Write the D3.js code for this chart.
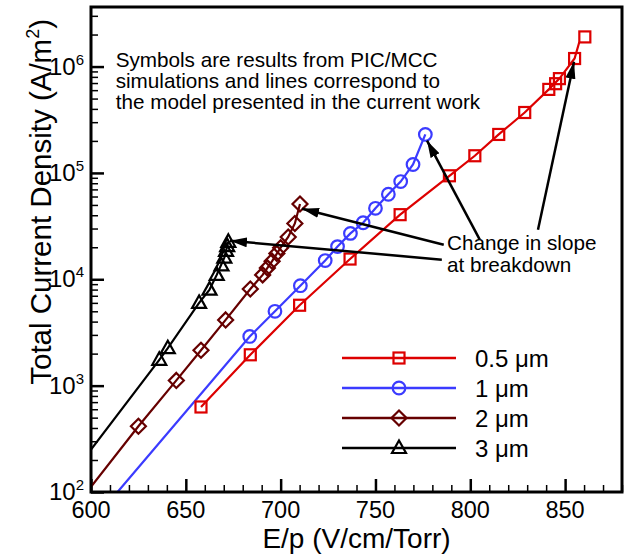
<!DOCTYPE html>
<html lang="en">
<head>
<meta charset="UTF-8">
<title>Total Current Density vs E/p</title>
<style>
  body { margin: 0; background: #fff; }
  svg text { font-family: "Liberation Sans", Arial, sans-serif; fill: #000; }
</style>
</head>
<body>
<div id="chart"></div>
<script src="https://d3js.org/d3.v7.min.js"></script>
<script>
// ---- data ----
const xTicks = [600, 650, 700, 750, 800, 850];
const yTickExps = [2, 3, 4, 5, 6];

// 0.5 um
const ep05Sym = [658, 684, 710, 736.6, 763, 789, 802.4, 815, 828.7, 841.4, 845, 847, 855, 860.4];
const j05Sym = [630, 1950, 5700, 15500, 40500, 94000, 145000, 230000, 370000, 610000, 690000, 770000, 1190000, 1900000];
const ep05Line = [658, 684, 710, 736.6, 763, 789, 802.4, 815, 828.7, 841.4, 847, 855, 857.5];
const j05Line = [630, 1950, 5700, 15500, 40500, 94000, 145000, 230000, 370000, 610000, 770000, 1190000, 1700000];

// 1 um
const ep1Sym = [683.7, 697, 710.4, 723.5, 730, 736.8, 743.5, 750, 756.8, 763.3, 769.8, 776.3];
const j1Sym = [2900, 5000, 8700, 15000, 20300, 27000, 34000, 46500, 63000, 83000, 120000, 230000];
const ep1Line = [614, 683.7, 697, 710.4, 723.5, 730, 736.8, 743.5, 750, 756.8, 763.3, 769.8, 776.3];
const j1Line = [100, 2900, 5000, 8700, 15000, 20300, 27000, 34000, 46500, 63000, 83000, 120000, 230000];

// 2 um
const ep2Sym = [625, 645, 658, 671, 684, 690.5, 693, 695.5, 698, 700, 704, 707.5, 710.2];
const j2Sym = [415, 1120, 2150, 4150, 8100, 11000, 12800, 14800, 17500, 19800, 25000, 33500, 51000];
const ep2Line = [600, 625, 645, 658, 671, 684, 690.5, 695.5, 700, 704, 707.5, 710.2];
const j2Line = [112, 415, 1120, 2150, 4150, 8100, 11000, 14800, 19800, 25000, 33500, 51000];

// 3 um
const ep3Sym = [636, 640.5, 657, 662.5, 666.3, 668.8, 670.3, 671.2, 671.8, 672.4];
const j3Sym = [1750, 2250, 6000, 8000, 11000, 13500, 16000, 18500, 20500, 22500];
const ep3Line = [600, 636, 640.5, 657, 662.5, 666.3, 670.3, 672.4];
const j3Line = [250, 1750, 2250, 6000, 8000, 11000, 16000, 22500];

const seriesNames = ["0.5 \u03bcm", "1 \u03bcm", "2 \u03bcm", "3 \u03bcm"];

const noteLines = ["Symbols are results from PIC/MCC",
  "simulations and lines correspond to",
  "the model presented in the current work"];
const slopeLines = ["Change in slope", "at breakdown"];

// arrows: [fromEp, fromJ, toEp, toJ]
const arrows = [
  [805, 23600, 777.2, 201000],
  [786, 21100, 711.3, 46100],
  [785, 15300, 673.3, 23000],
  [835.7, 29200, 854.7, 1110000]
];

// ---- layout ----
const W = 630, H = 556;
const margin = {top: 7, right: 8, bottom: 64, left: 91};

const series = [
  {name: seriesNames[0], color: "#dd0000", shape: "square", sx: ep05Sym, sy: j05Sym, lx: ep05Line, ly: j05Line},
  {name: seriesNames[1], color: "#3b3bff", shape: "circle", sx: ep1Sym, sy: j1Sym, lx: ep1Line, ly: j1Line},
  {name: seriesNames[2], color: "#660000", shape: "diamond", sx: ep2Sym, sy: j2Sym, lx: ep2Line, ly: j2Line},
  {name: seriesNames[3], color: "#000000", shape: "triangle", sx: ep3Sym, sy: j3Sym, lx: ep3Line, ly: j3Line}
];

const svg = d3.select("#chart").append("svg")
  .attr("width", W)
  .attr("height", H);

const x = d3.scaleLinear()
  .domain([600, 880])
  .range([margin.left, W - margin.right]);

const y = d3.scaleLog()
  .domain([100, Math.pow(10, 6.56)])
  .range([H - margin.bottom, margin.top]);

svg.append("defs").append("clipPath")
  .attr("id", "plot-clip")
  .append("rect")
  .attr("x", margin.left)
  .attr("y", margin.top)
  .attr("width", W - margin.left - margin.right)
  .attr("height", H - margin.top - margin.bottom);

// ticks (pointing inward)
const xMinor = d3.range(600, 881, 10).filter(v => v % 50 !== 0);
svg.append("g")
  .attr("transform", `translate(0,${H - margin.bottom})`)
  .call(d3.axisTop(x).tickValues(xMinor).tickSize(7).tickFormat(""))
  .call(g => g.select(".domain").remove())
  .selectAll("line").attr("stroke-width", 1.5);

svg.append("g")
  .attr("transform", `translate(0,${H - margin.bottom})`)
  .call(d3.axisTop(x).tickValues(xTicks).tickSize(13).tickFormat(""))
  .call(g => g.select(".domain").remove())
  .selectAll("line").attr("stroke-width", 2.5);

const yMinor = [];
yTickExps.forEach(e => {
  for (let m = 2; m <= 9; m++) {
    const v = m * Math.pow(10, e);
    if (v <= y.domain()[1]) yMinor.push(v);
  }
});
svg.append("g")
  .attr("transform", `translate(${margin.left},0)`)
  .call(d3.axisRight(y).tickValues(yMinor).tickSize(7).tickFormat(""))
  .call(g => g.select(".domain").remove())
  .selectAll("line").attr("stroke-width", 1.5);

svg.append("g")
  .attr("transform", `translate(${margin.left},0)`)
  .call(d3.axisRight(y).tickValues(yTickExps.map(e => Math.pow(10, e))).tickSize(13).tickFormat(""))
  .call(g => g.select(".domain").remove())
  .selectAll("line").attr("stroke-width", 2.5);

// tick labels
svg.append("g").selectAll("text")
  .data(xTicks)
  .join("text")
  .attr("x", d => x(d))
  .attr("y", H - margin.bottom + 26)
  .attr("text-anchor", "middle")
  .style("font-size", "23.5px")
  .text(d => d);

const yLab = svg.append("g").selectAll("text")
  .data(yTickExps)
  .join("text")
  .attr("x", margin.left - 7)
  .attr("y", d => y(Math.pow(10, d)) + 8)
  .attr("text-anchor", "end")
  .style("font-size", "24px");
yLab.append("tspan").text("10");
yLab.append("tspan")
  .attr("dy", -10)
  .style("font-size", "15px")
  .text(d => d);

// axis titles
svg.append("text")
  .attr("x", (margin.left + W - margin.right) / 2)
  .attr("y", H - 8)
  .attr("text-anchor", "middle")
  .style("font-size", "28px")
  .text("E/p (V/cm/Torr)");

const yTitle = svg.append("text")
  .attr("transform", "translate(51,19) rotate(-90)")
  .attr("text-anchor", "end")
  .style("font-size", "29.5px");
yTitle.append("tspan").text("Total Current Density (A/m");
yTitle.append("tspan").attr("dy", -12).style("font-size", "18px").text("2");
yTitle.append("tspan").attr("dy", 12).text(")");

// marker drawing
function marker(sel, shape, color) {
  const s = 5.5;
  if (shape === "circle") {
    sel.append("circle").attr("r", 6.3);
  } else if (shape === "square") {
    sel.append("rect").attr("x", -s).attr("y", -s).attr("width", 2 * s).attr("height", 2 * s);
  } else if (shape === "diamond") {
    sel.append("path").attr("d", "M0,-7.5L7.5,0L0,7.5L-7.5,0Z");
  } else {
    sel.append("path").attr("d", "M0,-7.5L7,5L-7,5Z");
  }
  sel.selectAll("circle,rect,path")
    .attr("fill", "none")
    .attr("stroke", color)
    .attr("stroke-width", 2.2);
}

const plot = svg.append("g").attr("clip-path", "url(#plot-clip)");
const line = d3.line().x(d => x(d[0])).y(d => y(d[1]));

series.forEach(s => {
  plot.append("path")
    .datum(s.lx.map((v, i) => [v, s.ly[i]]))
    .attr("fill", "none")
    .attr("stroke", s.color)
    .attr("stroke-width", 2.2)
    .attr("d", line);
});

series.forEach(s => {
  plot.append("g").selectAll("g")
    .data(s.sx.map((v, i) => [v, s.sy[i]]))
    .join("g")
    .attr("transform", d => `translate(${x(d[0])},${y(d[1])})`)
    .each(function () { marker(d3.select(this), s.shape, s.color); });
});

// annotations
svg.append("text")
  .attr("x", x(613))
  .attr("y", y(1e6))
  .style("font-size", "20.7px")
  .selectAll("tspan")
  .data(noteLines)
  .join("tspan")
  .attr("x", x(613))
  .attr("dy", (d, i) => i === 0 ? 0 : 21.3)
  .text(d => d);

svg.append("text")
  .attr("x", x(787.7))
  .attr("y", y(19000))
  .style("font-size", "20.7px")
  .selectAll("tspan")
  .data(slopeLines)
  .join("tspan")
  .attr("x", x(787.7))
  .attr("dy", (d, i) => i === 0 ? 0 : 22.5)
  .text(d => d);

svg.select("defs").append("marker")
  .attr("id", "arrowhead")
  .attr("viewBox", "0 0 17 10")
  .attr("refX", 17)
  .attr("refY", 5)
  .attr("markerUnits", "userSpaceOnUse")
  .attr("markerWidth", 17)
  .attr("markerHeight", 10)
  .attr("orient", "auto")
  .append("path")
  .attr("d", "M0,0L17,5L0,10Z")
  .attr("fill", "#000");

svg.append("g").selectAll("line")
  .data(arrows)
  .join("line")
  .attr("x1", d => x(d[0]))
  .attr("y1", d => y(d[1]))
  .attr("x2", d => x(d[2]))
  .attr("y2", d => y(d[3]))
  .attr("stroke", "#000")
  .attr("stroke-width", 2.5)
  .attr("marker-end", "url(#arrowhead)");

// legend
const legend = svg.append("g").selectAll("g")
  .data(series)
  .join("g")
  .attr("transform", (d, i) => `translate(342,${358 + i * 30})`);
legend.append("line")
  .attr("x1", 0).attr("x2", 114)
  .attr("stroke", d => d.color)
  .attr("stroke-width", 2.5);
legend.append("g")
  .attr("transform", "translate(57,0)")
  .each(function (d) { marker(d3.select(this), d.shape, d.color); });
legend.append("text")
  .attr("x", 133)
  .attr("y", 8.5)
  .style("font-size", "24px")
  .text(d => d.name);

// frame
svg.append("rect")
  .attr("x", margin.left)
  .attr("y", margin.top)
  .attr("width", W - margin.left - margin.right)
  .attr("height", H - margin.top - margin.bottom)
  .attr("fill", "none")
  .attr("stroke", "#000")
  .attr("stroke-width", 3);
</script>
</body>
</html>
